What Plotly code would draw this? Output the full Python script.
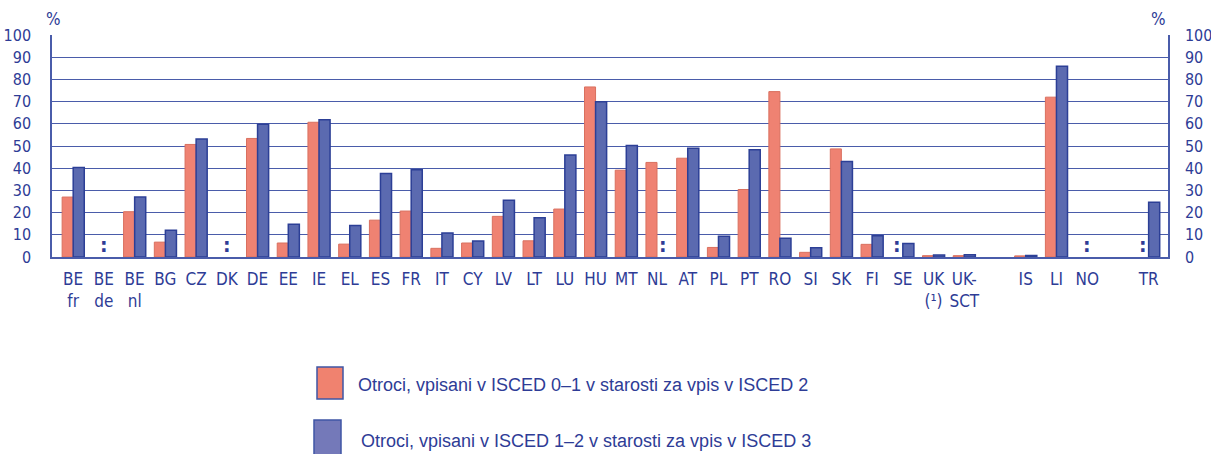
import plotly.graph_objects as go

# ---------------- data ----------------
categories = ["BE fr", "BE de", "BE nl", "BG", "CZ", "DK", "DE", "EE", "IE", "EL",
              "ES", "FR", "IT", "CY", "LV", "LT", "LU", "HU", "MT", "NL",
              "AT", "PL", "PT", "RO", "SI", "SK", "FI", "SE", "UK", "UK-SCT",
              "gap1", "IS", "LI", "NO", "gap2", "TR"]
tick_labels = ["BE<br>fr", "BE<br>de", "BE<br>nl", "BG", "CZ", "DK", "DE", "EE", "IE", "EL",
               "ES", "FR", "IT", "CY", "LV", "LT", "LU", "HU", "MT", "NL",
               "AT", "PL", "PT", "RO", "SI", "SK", "FI", "SE", "UK<br>(¹)", "UK-<br>SCT",
               "", "IS", "LI", "NO", "", "TR"]
# None = data not available (":"), "gap" = empty slot
isced_0_1 = [27.0, None, 20.4, 6.7, 50.7, None, 53.4, 6.3, 60.7, 5.8,
             16.6, 20.7, 3.9, 6.3, 18.3, 7.3, 21.6, 76.6, 39.1, 42.6,
             44.5, 4.3, 30.4, 74.5, 2.1, 48.7, 5.7, None, 0.6, 0.6,
             "gap", 0.5, 72.0, None, "gap", None]
isced_1_2 = [40.3, None, 27.0, 12.1, 53.1, None, 59.8, 14.8, 61.8, 14.2,
             37.6, 39.3, 10.8, 7.2, 25.6, 17.7, 45.9, 69.9, 50.2, None,
             49.0, 9.3, 48.3, 8.5, 4.2, 43.0, 9.6, 6.1, 0.9, 1.0,
             "gap", 0.7, 85.9, None, "gap", 24.7]
y_ticks = [0, 10, 20, 30, 40, 50, 60, 70, 80, 90, 100]
series_names = ["Otroci, vpisani v ISCED 0–1 v starosti za vpis v ISCED 2",
                "Otroci, vpisani v ISCED 1–2 v starosti za vpis v ISCED 3"]

# ---------------- style ----------------
W, H = 1211, 454
ML, MR, MT, MB = 52, 43, 35, 197
TXT = "#2E3C96"
GRID = "#4A5CAA"
RED = "#EF8272"
RED_LINE = "#D9705F"
BLUE = "#5B6AB0"
BLUE_LINE = "#2C3F96"
COND_FONT = ("Liberation Sans Narrow, Noto Sans Condensed, DejaVu Sans Condensed, "
             "Roboto Condensed, Roboto, sans-serif")
BARGAP = 0.28


def clean(vals):
    return [v if isinstance(v, (int, float)) else None for v in vals]


fig = go.Figure()
fig.add_trace(go.Bar(x=categories, y=clean(isced_0_1), name=series_names[0],
                     marker=dict(color=RED, line=dict(color=RED_LINE, width=1)),
                     showlegend=False))
fig.add_trace(go.Bar(x=categories, y=clean(isced_1_2), name=series_names[1],
                     marker=dict(color=BLUE, line=dict(color=BLUE_LINE, width=1.5)),
                     showlegend=False))
# transparent helper trace so the right-hand axis is drawn
fig.add_trace(go.Scatter(x=categories, y=clean(isced_1_2), yaxis="y2", mode="markers",
                         marker=dict(opacity=0), hoverinfo="skip", showlegend=False))

# ":" markers for missing data, derived from the data arrays
plot_w = W - ML - MR
slot_px = plot_w / (35.63 + 0.69)
bar_px = slot_px * (1 - BARGAP) / 2
annotations = []
for cat, a, b in zip(categories, isced_0_1, isced_1_2):
    if a == "gap":
        continue
    if a is None and b is None:
        shift = 0
    elif a is None:
        shift = -bar_px / 2
    elif b is None:
        shift = bar_px / 2
    else:
        continue
    annotations.append(dict(x=cat, y=0, xref="x", yref="y", text="<b>:</b>",
                            showarrow=False, xshift=shift, yanchor="bottom", yshift=-1,
                            font=dict(size=19, color=TXT, family="DejaVu Sans")))

# % labels
annotations.append(dict(x=0, y=1, xref="paper", yref="paper", text="%", showarrow=False,
                        xanchor="center", yanchor="bottom", yshift=4, xshift=1,
                        font=dict(size=17, color=TXT, family=COND_FONT)))
annotations.append(dict(x=1, y=1, xref="paper", yref="paper", text="%", showarrow=False,
                        xanchor="center", yanchor="bottom", yshift=4, xshift=-10,
                        font=dict(size=17, color=TXT, family=COND_FONT)))


# custom legend (pixel -> paper helpers)
def px_x(px):
    return (px - ML) / plot_w


def px_y(py):
    return (H - MB - py) / (H - MT - MB)


shapes = [
    dict(type="rect", xref="paper", yref="paper", x0=px_x(317), x1=px_x(343),
         y0=px_y(399), y1=px_y(367), fillcolor="#F0826F", line=dict(color="#3F55A5", width=1.5)),
    dict(type="rect", xref="paper", yref="paper", x0=px_x(314), x1=px_x(341),
         y0=px_y(460), y1=px_y(420), fillcolor="#7479B9", line=dict(color="#3F55A5", width=1.5)),
]
annotations.append(dict(x=px_x(356), y=px_y(385), xref="paper", yref="paper",
                        text=series_names[0], showarrow=False, xanchor="left", yanchor="middle",
                        font=dict(size=18, color=TXT, family="Liberation Sans, Arial, sans-serif")))
annotations.append(dict(x=px_x(359), y=px_y(441), xref="paper", yref="paper",
                        text=series_names[1], showarrow=False, xanchor="left", yanchor="middle",
                        font=dict(size=18, color=TXT, family="Liberation Sans, Arial, sans-serif")))

fig.update_layout(
    width=W, height=H,
    margin=dict(l=ML, r=MR, t=MT, b=MB, pad=0),
    paper_bgcolor="white", plot_bgcolor="white",
    barmode="group", bargap=BARGAP, bargroupgap=0,
    xaxis=dict(type="category", categoryorder="array", categoryarray=categories,
               tickvals=categories, ticktext=tick_labels, range=[-0.69, 35.63],
               showgrid=False, showline=True, linecolor=GRID, linewidth=1.5,
               ticks="", tickfont=dict(family=COND_FONT, size=17, color=TXT),
               ticklabelstandoff=6, fixedrange=True, automargin=False),
    yaxis=dict(range=[0, 100], tickvals=y_ticks, showgrid=True, gridcolor=GRID, gridwidth=1,
               showline=True, linecolor=GRID, linewidth=1.5, zeroline=False, ticks="",
               tickfont=dict(family=COND_FONT, size=16, color=TXT), ticklabelstandoff=16,
               automargin=False, fixedrange=True),
    yaxis2=dict(range=[0, 100], tickvals=y_ticks, overlaying="y", side="right", anchor="x",
                showgrid=False, showline=True, linecolor=GRID, linewidth=1.5, zeroline=False,
                ticks="", tickfont=dict(family=COND_FONT, size=16, color=TXT),
                ticklabelstandoff=12, automargin=False, fixedrange=True),
    shapes=shapes, annotations=annotations,
)

fig.write_html("out.html", config={"displayModeBar": False},
               post_script="document.body.style.margin='0';document.body.style.overflow='hidden';")
